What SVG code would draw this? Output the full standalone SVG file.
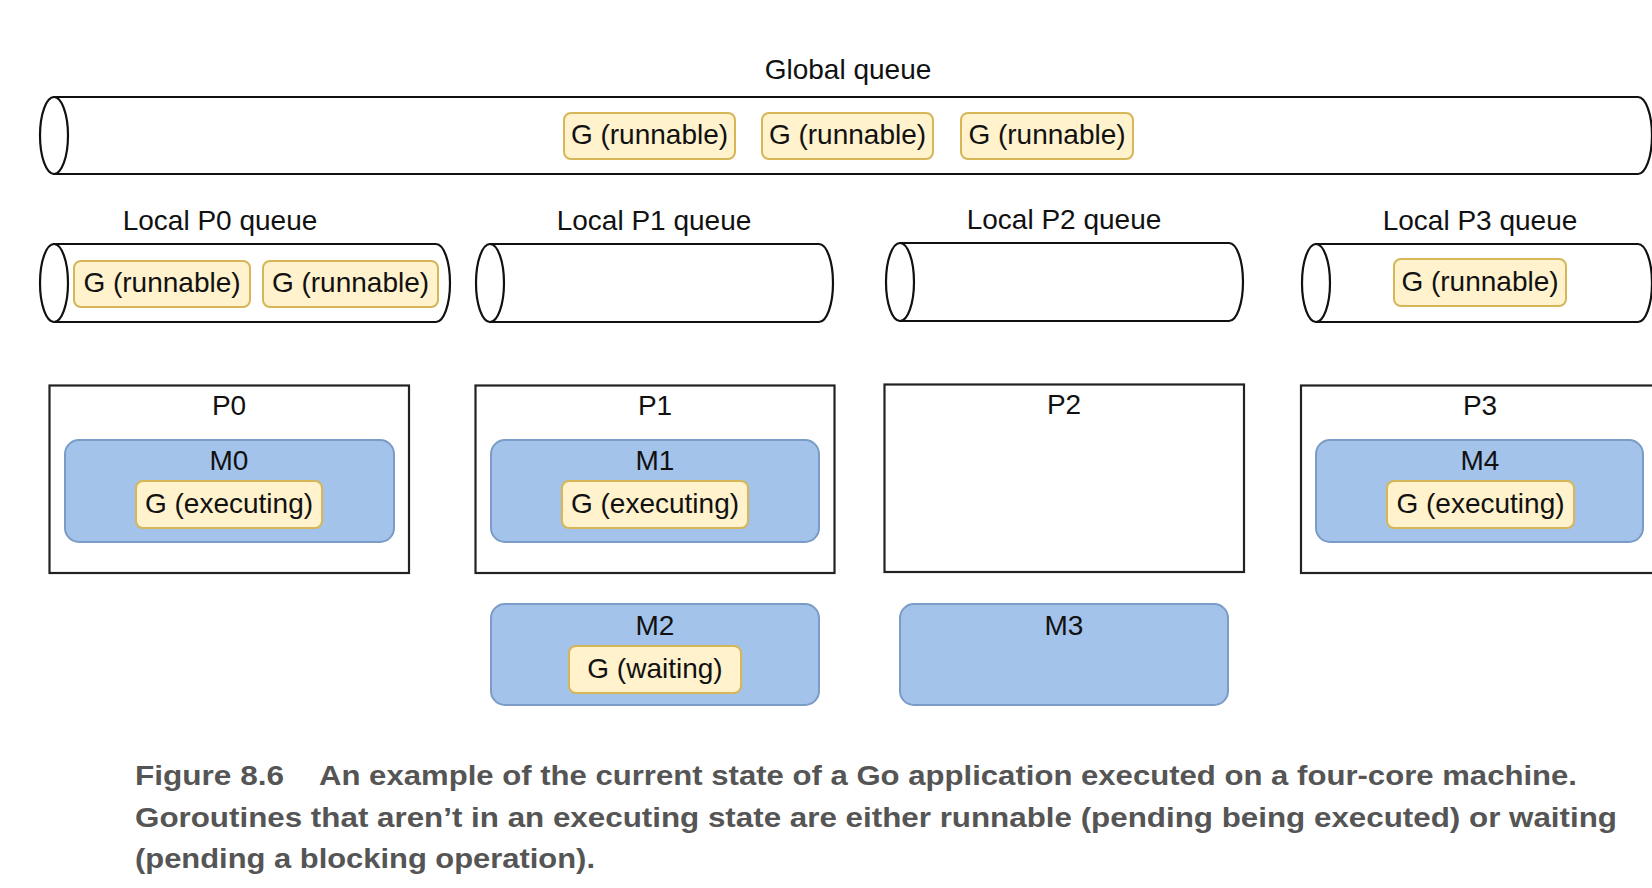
<svg xmlns="http://www.w3.org/2000/svg" width="1652" height="888" viewBox="0 0 1652 888">
<style>
  text { font-family: "Liberation Sans", Arial, Helvetica, sans-serif; font-size: 28px; fill: #111; }
  .c { text-anchor: middle; }
  .cyl { fill: #ffffff; stroke: #111; stroke-width: 2.2; }
  .p { fill: #ffffff; stroke: #222; stroke-width: 2.2; }
  .m { fill: #a3c3ea; stroke: #7a9cc6; stroke-width: 2; }
  .g { fill: #fff2cc; stroke: #d6b656; stroke-width: 2; }
  .cap { font-weight: bold; fill: #555555; font-size: 28px; }
</style>
<rect x="0" y="0" width="1652" height="888" fill="#ffffff"/>

<g id="global-queue">
  <text class="c" x="848" y="79">Global queue</text>
  <path class="cyl" d="M54,97 L1638,97 A14,38.5 0 0 1 1638,174 L54,174 Z"/>
  <ellipse class="cyl" cx="54" cy="135.5" rx="14" ry="38.5"/>
  <rect class="g" x="564" y="113" width="171" height="46" rx="7"/>
  <text class="c" x="649.5" y="144">G (runnable)</text>
  <rect class="g" x="762" y="113" width="171" height="46" rx="7"/>
  <text class="c" x="847.5" y="144">G (runnable)</text>
  <rect class="g" x="961" y="113" width="172" height="46" rx="7"/>
  <text class="c" x="1047" y="144">G (runnable)</text>
</g>

<g id="local-p0-queue">
  <text class="c" x="220" y="230">Local P0 queue</text>
  <path class="cyl" d="M54,244 L436,244 A14,39 0 0 1 436,322 L54,322 Z"/>
  <ellipse class="cyl" cx="54" cy="283" rx="14" ry="39"/>
  <rect class="g" x="74" y="261" width="176" height="46" rx="7"/>
  <text class="c" x="162" y="292">G (runnable)</text>
  <rect class="g" x="263" y="261" width="175" height="46" rx="7"/>
  <text class="c" x="350.5" y="292">G (runnable)</text>
</g>

<g id="local-p1-queue">
  <text class="c" x="654" y="230">Local P1 queue</text>
  <path class="cyl" d="M490,244 L819,244 A14,39 0 0 1 819,322 L490,322 Z"/>
  <ellipse class="cyl" cx="490" cy="283" rx="14" ry="39"/>
</g>

<g id="local-p2-queue">
  <text class="c" x="1064" y="229">Local P2 queue</text>
  <path class="cyl" d="M900,243 L1229,243 A14,39 0 0 1 1229,321 L900,321 Z"/>
  <ellipse class="cyl" cx="900" cy="282" rx="14" ry="39"/>
</g>

<g id="local-p3-queue">
  <text class="c" x="1480" y="230">Local P3 queue</text>
  <path class="cyl" d="M1316,244 L1638,244 A14,39 0 0 1 1638,322 L1316,322 Z"/>
  <ellipse class="cyl" cx="1316" cy="283" rx="14" ry="39"/>
  <rect class="g" x="1394" y="259" width="172" height="47" rx="7"/>
  <text class="c" x="1480" y="291">G (runnable)</text>
</g>

<g id="p0">
  <rect class="p" x="49.5" y="385.5" width="359.5" height="187.5"/>
  <text class="c" x="229" y="415">P0</text>
</g>
<g id="m0">
  <rect class="m" x="65" y="440" width="329" height="102" rx="14"/>
  <text class="c" x="229" y="470">M0</text>
  <rect class="g" x="136" y="481" width="186" height="47" rx="7"/>
  <text class="c" x="229" y="513">G (executing)</text>
</g>

<g id="p1">
  <rect class="p" x="475.5" y="385.5" width="359" height="187.5"/>
  <text class="c" x="655" y="415">P1</text>
</g>
<g id="m1">
  <rect class="m" x="491" y="440" width="328" height="102" rx="14"/>
  <text class="c" x="655" y="470">M1</text>
  <rect class="g" x="562" y="481" width="186" height="47" rx="7"/>
  <text class="c" x="655" y="513">G (executing)</text>
</g>

<g id="p2">
  <rect class="p" x="884.5" y="384.5" width="359.5" height="187.5"/>
  <text class="c" x="1064" y="414">P2</text>
</g>

<g id="p3">
  <rect class="p" x="1301" y="385.5" width="370" height="187.5"/>
  <text class="c" x="1480" y="415">P3</text>
</g>
<g id="m4">
  <rect class="m" x="1316" y="440" width="327" height="102" rx="14"/>
  <text class="c" x="1480" y="470">M4</text>
  <rect class="g" x="1387" y="481" width="187" height="47" rx="7"/>
  <text class="c" x="1480.5" y="513">G (executing)</text>
</g>

<g id="m2">
  <rect class="m" x="491" y="604" width="328" height="101" rx="14"/>
  <text class="c" x="655" y="635">M2</text>
  <rect class="g" x="569" y="646" width="172" height="47" rx="7"/>
  <text class="c" x="655" y="678">G (waiting)</text>
</g>

<g id="m3">
  <rect class="m" x="900" y="604" width="328" height="101" rx="14"/>
  <text class="c" x="1064" y="635">M3</text>
</g>

<g id="connectors"></g>

<g id="caption">
  <text class="cap" x="135" y="785" textLength="149" lengthAdjust="spacingAndGlyphs">Figure 8.6</text>
  <text class="cap" x="319" y="785" textLength="1258" lengthAdjust="spacingAndGlyphs">An example of the current state of a Go application executed on a four-core machine.</text>
  <text class="cap" x="135" y="827" textLength="1482" lengthAdjust="spacingAndGlyphs">Goroutines that aren’t in an executing state are either runnable (pending being executed) or waiting</text>
  <text class="cap" x="135" y="868" textLength="460" lengthAdjust="spacingAndGlyphs">(pending a blocking operation).</text>
</g>
</svg>
